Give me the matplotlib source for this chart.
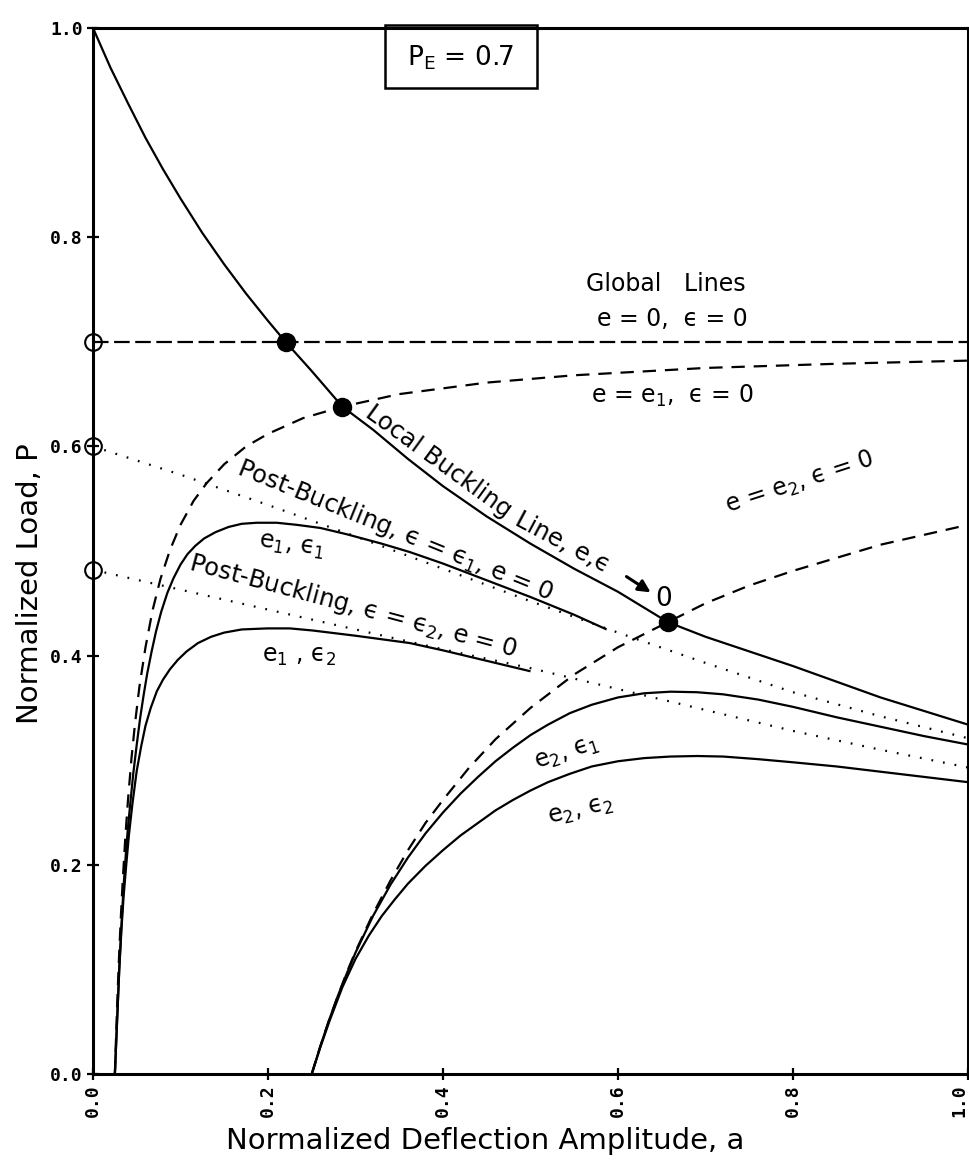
import matplotlib

matplotlib.use("Agg")
import matplotlib.pyplot as plt
from matplotlib.patches import Rectangle

# load-deflection curves, P_E = 0.7
A_LOCAL = [0.0, 0.02, 0.04, 0.06, 0.08, 0.1, 0.125, 0.15, 0.175, 0.2, 0.22, 0.25, 0.285,
           0.32, 0.36, 0.4, 0.45, 0.5, 0.55, 0.6, 0.657, 0.7, 0.75, 0.8, 0.85, 0.9,
           0.95, 1.0]
P_LOCAL = [1.0, 0.962, 0.928, 0.895, 0.865, 0.837, 0.804, 0.774, 0.746, 0.72, 0.70,
           0.672, 0.638, 0.616, 0.588, 0.562, 0.533, 0.507, 0.483, 0.461, 0.432, 0.418,
           0.404, 0.39, 0.375, 0.36, 0.347, 0.334]

A_GLOBAL = [0.0, 1.0]
P_GLOBAL = [0.7, 0.7]

A_E1 = [0.025, 0.026, 0.027, 0.028, 0.03, 0.032, 0.034, 0.037, 0.04, 0.044, 0.048,
        0.053, 0.06, 0.068, 0.077, 0.088, 0.1, 0.115, 0.13, 0.15, 0.175, 0.2, 0.24,
        0.285, 0.35, 0.45, 0.55, 0.7, 0.85, 1.0]
P_E1 = [0.0, 0.027, 0.052, 0.075, 0.117, 0.153, 0.185, 0.227, 0.262, 0.302, 0.335,
        0.37, 0.408, 0.443, 0.473, 0.501, 0.525, 0.548, 0.565, 0.583, 0.6, 0.612,
        0.627, 0.638, 0.65, 0.661, 0.668, 0.675, 0.679, 0.682]

A_E2 = [0.25, 0.255, 0.26, 0.27, 0.28, 0.29, 0.3, 0.32, 0.34, 0.36, 0.38, 0.4, 0.43,
        0.46, 0.5, 0.55, 0.6, 0.657, 0.7, 0.75, 0.8, 0.9, 1.0]
P_E2 = [0.0, 0.014, 0.027, 0.052, 0.075, 0.097, 0.117, 0.153, 0.185, 0.214, 0.24,
        0.262, 0.293, 0.32, 0.35, 0.382, 0.408, 0.432, 0.45, 0.467, 0.481, 0.506, 0.525]

A_POST1 = [0.0, 0.1, 0.2, 0.3, 0.4, 0.5, 0.6, 0.7, 0.8, 0.9, 1.0]
P_POST1 = [0.6, 0.573, 0.544, 0.514, 0.483, 0.452, 0.422, 0.393, 0.365, 0.342, 0.321]

A_POST2 = [0.0, 0.1, 0.2, 0.3, 0.4, 0.5, 0.6, 0.7, 0.8, 0.9, 1.0]
P_POST2 = [0.482, 0.463, 0.444, 0.425, 0.406, 0.388, 0.368, 0.348, 0.328, 0.31, 0.293]

A_E1_EPS1 = [0.025, 0.0275, 0.03, 0.0325, 0.035, 0.0375, 0.04, 0.043, 0.046, 0.05,
             0.054, 0.058, 0.062, 0.067, 0.072, 0.078, 0.085, 0.092, 0.1, 0.108, 0.117,
             0.127, 0.14, 0.155, 0.17, 0.187, 0.21, 0.233, 0.26, 0.29, 0.33, 0.362,
             0.4, 0.45, 0.5, 0.55, 0.587]
P_E1_EPS1 = [0.0, 0.05, 0.1, 0.142, 0.18, 0.21, 0.236, 0.262, 0.287, 0.315, 0.341,
             0.363, 0.383, 0.404, 0.423, 0.442, 0.46, 0.474, 0.487, 0.497, 0.505, 0.512,
             0.518, 0.523, 0.526, 0.527, 0.527, 0.525, 0.522, 0.516, 0.507, 0.499,
             0.488, 0.472, 0.456, 0.439, 0.425]

A_E1_EPS2 = [0.025, 0.0275, 0.03, 0.0325, 0.035, 0.038, 0.041, 0.045, 0.05, 0.055, 0.06,
             0.066, 0.073, 0.08, 0.088, 0.097, 0.107, 0.12, 0.135, 0.15, 0.17, 0.199,
             0.225, 0.251, 0.3, 0.362, 0.4, 0.45, 0.5]
P_E1_EPS2 = [0.0, 0.05, 0.1, 0.138, 0.17, 0.2, 0.228, 0.258, 0.29, 0.313, 0.333, 0.35,
             0.366, 0.377, 0.387, 0.396, 0.404, 0.412, 0.418, 0.422, 0.425, 0.426, 0.426,
             0.424, 0.419, 0.412, 0.405, 0.395, 0.385]

A_E2_EPS1 = [0.25, 0.26, 0.27, 0.28, 0.29, 0.3, 0.32, 0.34, 0.36, 0.38, 0.4, 0.42, 0.44,
             0.46, 0.48, 0.5, 0.52, 0.545, 0.57, 0.6, 0.63, 0.66, 0.69, 0.72, 0.76, 0.8,
             0.85, 0.9, 0.95, 1.0]
P_E2_EPS1 = [0.0, 0.027, 0.052, 0.075, 0.096, 0.116, 0.151, 0.181, 0.207, 0.23, 0.25,
             0.268, 0.284, 0.299, 0.312, 0.324, 0.334, 0.345, 0.353, 0.36, 0.364, 0.3655,
             0.365, 0.363, 0.358, 0.351, 0.341, 0.332, 0.323, 0.315]

A_E2_EPS2 = [0.25, 0.26, 0.27, 0.285, 0.3, 0.315, 0.33, 0.345, 0.36, 0.38, 0.4, 0.42,
             0.44, 0.46, 0.48, 0.5, 0.52, 0.545, 0.57, 0.6, 0.63, 0.66, 0.69, 0.72, 0.76,
             0.8, 0.85, 0.9, 0.95, 1.0]
P_E2_EPS2 = [0.0, 0.026, 0.05, 0.083, 0.11, 0.132, 0.151, 0.167, 0.182, 0.199, 0.214,
             0.228, 0.24, 0.252, 0.262, 0.271, 0.279, 0.287, 0.294, 0.299, 0.302, 0.3035,
             0.304, 0.3035, 0.301, 0.298, 0.294, 0.289, 0.284, 0.279]

# intersections of local and global lines
A_DOTS = [0.22, 0.285, 0.657]
P_DOTS = [0.70, 0.638, 0.432]

# load levels marked on the P axis
P_AXIS_MARKS = [0.7, 0.6, 0.482]

TICKS = [0.0, 0.2, 0.4, 0.6, 0.8, 1.0]

plt.rcParams["mathtext.default"] = "regular"
LABEL_FONT = "DejaVu Sans"
TICK_FONT = "DejaVu Sans Mono"

fig = plt.figure(figsize=(9.7, 11.66), dpi=100)
ax = fig.add_axes([93 / 970, 1 - 1074 / 1166, 875 / 970, 1046 / 1166])

solid = dict(color="black", lw=1.6, solid_capstyle="butt")
ax.plot(A_LOCAL, P_LOCAL, **solid)
ax.plot(A_E1_EPS1, P_E1_EPS1, **solid)
ax.plot(A_E1_EPS2, P_E1_EPS2, **solid)
ax.plot(A_E2_EPS1, P_E2_EPS1, **solid)
ax.plot(A_E2_EPS2, P_E2_EPS2, **solid)

ax.plot(A_GLOBAL, P_GLOBAL, color="black", lw=1.6, ls=(0, (7, 2.5)))
ax.plot(A_E1, P_E1, color="black", lw=1.6, ls=(0, (6, 4)))
ax.plot(A_E2, P_E2, color="black", lw=1.6, ls=(0, (6, 4)))

ax.plot(A_POST1, P_POST1, color="black", lw=1.6, ls=(0, (0.8, 4.5)))
ax.plot(A_POST2, P_POST2, color="black", lw=1.6, ls=(0, (0.8, 4.5)))

ax.plot(A_DOTS, P_DOTS, "o", color="black", ms=13, zorder=5)
ax.plot([0.0] * len(P_AXIS_MARKS), P_AXIS_MARKS, "o", ms=12, mfc="none",
        mec="black", mew=1.5, clip_on=False, zorder=6)

ax.set_xlim(0, 1)
ax.set_ylim(0, 1)
ax.set_xticks(TICKS)
ax.set_yticks(TICKS)
ax.set_xticklabels([f"{t:.1f}" for t in TICKS], rotation=90, family=TICK_FONT,
                   weight="bold", fontsize=13)
ax.set_yticklabels([f"{t:.1f}" for t in TICKS], family=TICK_FONT, weight="bold",
                   fontsize=13)
ax.get_xticklabels()[-1].set_ha("right")
ax.tick_params(direction="inout", length=9, width=1.6, pad=3, top=False, right=False)
for sp in ax.spines.values():
    sp.set_linewidth(2.2)

ax.set_xlabel("Normalized Deflection Amplitude, a", family=LABEL_FONT, fontsize=21,
              va="center")
ax.xaxis.set_label_coords(0.448, -0.064)
ax.set_ylabel("Normalized Load, P", family=LABEL_FONT, fontsize=21, va="center")
ax.yaxis.set_label_coords(-0.072, 0.469)

# P_E box hanging from the top
ax.add_patch(Rectangle((0.334, 0.943), 0.173, 0.06, fill=False, lw=1.8,
                       edgecolor="black", clip_on=False))
ax.text(0.42, 0.972, "P$_E$ = 0.7", ha="center", va="center", fontsize=19,
        family=LABEL_FONT)

txt = dict(family=LABEL_FONT, fontsize=17, ha="center", va="center",
           rotation_mode="anchor")
big = dict(txt, fontsize=17.5)
ax.text(0.655, 0.755, "Global   Lines", **txt)
ax.text(0.662, 0.722, "e = 0,  \u03f5 = 0", **txt)
ax.text(0.662, 0.648, "e = e$_1$,  \u03f5 = 0", **txt)
ax.text(0.808, 0.565, "e = e$_2$, \u03f5 = 0", rotation=18, **txt)

ax.text(0.395, 0.586, "Local Buckling", rotation=-36, **big)
ax.text(0.537, 0.508, "Line, e,\u03f5", rotation=-28, **big)
ax.annotate("", xy=(0.64, 0.459), xytext=(0.607, 0.477),
            arrowprops=dict(arrowstyle="-|>", lw=2.2, mutation_scale=18, color="black"))
ax.text(0.652, 0.454, "0", fontsize=19, family=LABEL_FONT, ha="center", va="center")

ax.text(0.345, 0.52, "Post-Buckling, \u03f5 = \u03f5$_1$, e = 0", rotation=-22, **big)
ax.text(0.297, 0.447, "Post-Buckling, \u03f5 = \u03f5$_2$, e = 0", rotation=-15, **big)
ax.text(0.227, 0.505, "e$_1$, \u03f5$_1$", rotation=-8, **txt)
ax.text(0.235, 0.40, "e$_1$ , \u03f5$_2$", **txt)
ax.text(0.542, 0.307, "e$_2$, \u03f5$_1$", rotation=18, **txt)
ax.text(0.558, 0.252, "e$_2$, \u03f5$_2$", rotation=13, **txt)

fig.savefig("out.png", dpi=100, facecolor="white")
